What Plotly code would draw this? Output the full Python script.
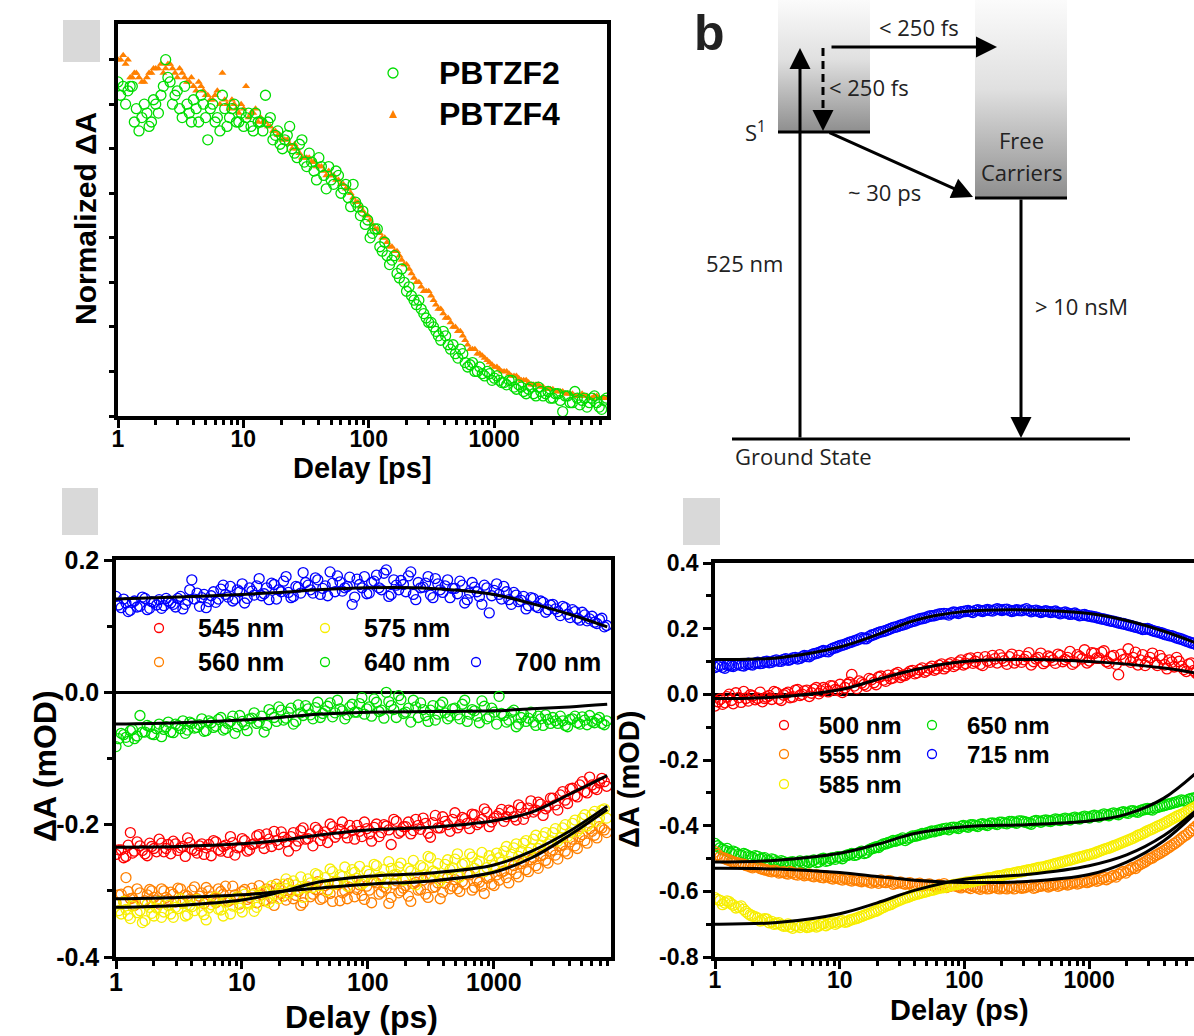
import plotly.graph_objects as go

W, H = 1194, 1036

# ---------------- data ----------------
# delay grid (ps) and an interleaved second grid
delays = [1.0, 1.1, 1.2, 1.3, 1.4, 1.55, 1.7, 1.85, 2.0, 2.2,
          2.4, 2.6, 2.85, 3.1, 3.4, 3.7, 4.0, 4.4, 4.8, 5.2,
          5.7, 6.2, 6.8, 7.4, 8.1, 8.8, 9.6, 10.5, 11.5, 12.5,
          13.7, 15, 16.4, 18, 19.6, 21.4, 23.4, 25.6, 28, 30.6,
          33.5, 36.6, 40, 43.8, 47.9, 52.4, 57.3, 62.7, 68.6, 75,
          82, 89.7, 98, 107, 117, 128, 140, 153, 168, 183,
          200, 219, 240, 262, 287, 314, 343, 375, 410, 449,
          491, 537, 587, 642, 702, 768, 840, 919, 1005, 1100,
          1200, 1315, 1440, 1570, 1720, 1880, 2060, 2250, 2460, 2690,
          2940, 3220, 3520, 3850, 4210, 4600, 5030, 5500, 6020, 6580,
          7200, 7870]
delays_mid = [1.05, 1.15, 1.25, 1.35, 1.47, 1.62, 1.77, 1.92, 2.1, 2.3,
              2.5, 2.72, 2.97, 3.25, 3.55, 3.85, 4.2, 4.6, 5.0, 5.45,
              5.95, 6.5, 7.1, 7.75, 8.45, 9.2, 10.05, 11, 12, 13.1,
              14.3, 15.7, 17.2, 18.8, 20.5, 22.4, 24.5, 26.8, 29.3, 32,
              35, 38.3, 41.9, 45.8, 50.1, 54.8, 60, 65.6, 71.7, 78.5,
              85.8, 93.8, 102.5, 112, 122.5, 134, 146.5, 160.5, 175.5, 191.5,
              209.5, 229.5, 251, 274.5, 300.5, 328.5, 359, 392.5, 429.5, 470,
              514, 562, 614.5, 672, 735, 804, 879.5, 962, 1052, 1150,
              1257, 1377, 1505, 1645, 1800, 1970, 2155, 2355, 2575, 2815,
              3080, 3370, 3685, 4030, 4405, 4815, 5265, 5760, 6300, 6890,
              7535]

# panel a (normalized dA)
pbtzf2 = [0.75, 0.74, 0.73, 0.74, 0.69, 0.67, 0.68, 0.66, 0.70, 0.72,
          0.80, 0.75, 0.72, 0.69, 0.74, 0.68, 0.71, 0.66, 0.70, 0.62,
          0.70, 0.67, 0.72, 0.65, 0.69, 0.66, 0.68, 0.67, 0.65, 0.68,
          0.66, 0.72, 0.67, 0.63, 0.61, 0.62, 0.65, 0.59, 0.61, 0.57,
          0.59, 0.55, 0.58, 0.54, 0.56, 0.52, 0.54, 0.51, 0.49, 0.52,
          0.47, 0.46, 0.44, 0.41, 0.42, 0.37, 0.36, 0.35, 0.32, 0.33,
          0.28, 0.27, 0.25, 0.24, 0.22, 0.21, 0.19, 0.17, 0.18, 0.15,
          0.14, 0.15, 0.12, 0.115, 0.10, 0.11, 0.09, 0.095, 0.085, 0.08,
          0.075, 0.08, 0.065, 0.07, 0.055, 0.06, 0.05, 0.065, 0.045, 0.055,
          0.04, 0.05, 0.01, 0.045, 0.03, 0.04, 0.035, 0.02, 0.04, 0.03,
          0.015, 0.04]
pbtzf2_mid = [0.72, 0.70, 0.74, 0.66, 0.64, 0.70, 0.65, 0.71, 0.68, 0.74,
              0.76, 0.70, 0.73, 0.67, 0.70, 0.66, 0.69, 0.72, 0.67, 0.69,
              0.66, 0.64, 0.69, 0.67, 0.70, 0.66, 0.65, 0.68, 0.64, 0.66,
              0.64, 0.66, 0.62, 0.64, 0.60, 0.63, 0.60, 0.58, 0.62, 0.56,
              0.57, 0.53, 0.56, 0.51, 0.53, 0.55, 0.50, 0.52, 0.47, 0.48,
              0.45, 0.43, 0.40, 0.42, 0.38, 0.39, 0.34, 0.36, 0.31, 0.30,
              0.29, 0.26, 0.26, 0.23, 0.21, 0.20, 0.18, 0.19, 0.16, 0.16,
              0.13, 0.14, 0.11, 0.12, 0.10, 0.095, 0.10, 0.08, 0.09, 0.075,
              0.07, 0.08, 0.06, 0.065, 0.05, 0.065, 0.045, 0.055, 0.05, 0.04,
              0.05, 0.035, 0.045, 0.03, 0.055, 0.025, 0.04, 0.03, 0.045, 0.02,
              0.035]
pbtzf4 = [0.80, 0.81, 0.80, 0.76, 0.77, 0.75, 0.76, 0.77, 0.78, 0.79,
          0.78, 0.79, 0.77, 0.78, 0.76, 0.75, 0.74, 0.75, 0.73, 0.72,
          0.71, 0.73, 0.77, 0.70, 0.71, 0.69, 0.70, 0.74, 0.68, 0.69,
          0.67, 0.66, 0.65, 0.64, 0.63, 0.62, 0.61, 0.61, 0.59, 0.58,
          0.58, 0.57, 0.56, 0.55, 0.55, 0.54, 0.53, 0.52, 0.51, 0.49,
          0.48, 0.46, 0.45, 0.43, 0.42, 0.40, 0.39, 0.38, 0.37, 0.35,
          0.34, 0.32, 0.30, 0.29, 0.28, 0.27, 0.25, 0.24, 0.22, 0.21,
          0.20, 0.19, 0.17, 0.15, 0.15, 0.14, 0.13, 0.12, 0.11, 0.105,
          0.10, 0.095, 0.09, 0.085, 0.08, 0.075, 0.07, 0.07, 0.065, 0.06,
          0.06, 0.055, 0.055, 0.05, 0.05, 0.045, 0.05, 0.045, 0.04, 0.045,
          0.04, 0.04]
pbtzf4_mid = [0.80, 0.79, 0.76, 0.77, 0.76, 0.75, 0.77, 0.78, 0.78, 0.77,
              0.79, 0.78, 0.76, 0.77, 0.75, 0.76, 0.73, 0.74, 0.72, 0.71,
              0.72, 0.70, 0.71, 0.69, 0.70, 0.68, 0.69, 0.67, 0.68, 0.66,
              0.66, 0.65, 0.64, 0.63, 0.62, 0.62, 0.60, 0.60, 0.58, 0.58,
              0.57, 0.56, 0.56, 0.54, 0.54, 0.53, 0.52, 0.51, 0.50, 0.48,
              0.47, 0.45, 0.44, 0.42, 0.41, 0.40, 0.38, 0.37, 0.36, 0.34,
              0.33, 0.31, 0.30, 0.28, 0.28, 0.26, 0.24, 0.23, 0.22, 0.20,
              0.19, 0.18, 0.16, 0.15, 0.14, 0.135, 0.125, 0.115, 0.11, 0.10,
              0.10, 0.09, 0.09, 0.08, 0.08, 0.07, 0.07, 0.065, 0.06, 0.06,
              0.055, 0.055, 0.05, 0.05, 0.045, 0.045, 0.045, 0.04, 0.045, 0.04,
              0.04]

# panel c (bottom-left), dA in mOD
c_545 = [-0.245, -0.238, -0.248, -0.212, -0.240, -0.232, -0.244, -0.228, -0.236, -0.222,
         -0.241, -0.230, -0.225, -0.239, -0.233, -0.220, -0.237, -0.243, -0.229, -0.235,
         -0.247, -0.226, -0.240, -0.231, -0.218, -0.246, -0.234, -0.224, -0.238, -0.229,
         -0.215, -0.236, -0.222, -0.210, -0.230, -0.219, -0.240, -0.212, -0.225, -0.205,
         -0.221, -0.232, -0.208, -0.216, -0.227, -0.203, -0.214, -0.196, -0.220, -0.209,
         -0.201, -0.218, -0.206, -0.225, -0.199, -0.212, -0.202, -0.230, -0.195, -0.210,
         -0.203, -0.214, -0.192, -0.207, -0.198, -0.219, -0.186, -0.205, -0.195, -0.210,
         -0.182, -0.200, -0.191, -0.206, -0.185, -0.197, -0.176, -0.203, -0.190, -0.183,
         -0.195, -0.178, -0.188, -0.170, -0.192, -0.175, -0.181, -0.166, -0.186, -0.172,
         -0.160, -0.178, -0.150, -0.168, -0.145, -0.158, -0.135, -0.152, -0.140, -0.147,
         -0.130, -0.142]
c_545_mid = [-0.238, -0.250, -0.231, -0.243, -0.226, -0.239, -0.247, -0.233, -0.241, -0.228,
             -0.236, -0.244, -0.229, -0.235, -0.248, -0.227, -0.239, -0.232, -0.245, -0.230,
             -0.224, -0.238, -0.233, -0.242, -0.227, -0.235, -0.221, -0.240, -0.230, -0.217,
             -0.228, -0.214, -0.233, -0.224, -0.211, -0.226, -0.218, -0.232, -0.209, -0.222,
             -0.214, -0.204, -0.224, -0.211, -0.199, -0.219, -0.207, -0.213, -0.201, -0.222,
             -0.210, -0.196, -0.214, -0.204, -0.218, -0.200, -0.208, -0.192, -0.213, -0.203,
             -0.196, -0.209, -0.201, -0.190, -0.213, -0.197, -0.205, -0.188, -0.200, -0.192,
             -0.205, -0.189, -0.198, -0.184, -0.200, -0.192, -0.181, -0.196, -0.187, -0.177,
             -0.188, -0.180, -0.193, -0.174, -0.183, -0.164, -0.178, -0.169, -0.176, -0.160,
             -0.170, -0.155, -0.163, -0.146, -0.156, -0.140, -0.150, -0.128, -0.145, -0.137,
             -0.135]
c_560 = [-0.318, -0.305, -0.280, -0.312, -0.322, -0.303, -0.315, -0.298, -0.310, -0.320,
         -0.300, -0.313, -0.305, -0.296, -0.317, -0.308, -0.299, -0.312, -0.303, -0.295,
         -0.309, -0.318, -0.301, -0.293, -0.314, -0.306, -0.320, -0.298, -0.310, -0.304,
         -0.292, -0.315, -0.300, -0.322, -0.296, -0.308, -0.289, -0.312, -0.301, -0.318,
         -0.294, -0.305, -0.286, -0.311, -0.299, -0.316, -0.290, -0.303, -0.312, -0.284,
         -0.298, -0.307, -0.293, -0.318, -0.288, -0.302, -0.296, -0.310, -0.285, -0.300,
         -0.292, -0.316, -0.287, -0.298, -0.305, -0.281, -0.294, -0.312, -0.289, -0.297,
         -0.283, -0.301, -0.290, -0.276, -0.295, -0.287, -0.304, -0.279, -0.292, -0.284,
         -0.270, -0.288, -0.262, -0.279, -0.256, -0.271, -0.250, -0.266, -0.245, -0.258,
         -0.238, -0.252, -0.230, -0.244, -0.222, -0.236, -0.215, -0.228, -0.210, -0.220,
         -0.205, -0.212]
c_560_mid = [-0.306, -0.316, -0.301, -0.311, -0.297, -0.318, -0.306, -0.300, -0.314, -0.297,
             -0.310, -0.302, -0.317, -0.297, -0.306, -0.313, -0.294, -0.308, -0.319, -0.300,
             -0.312, -0.297, -0.305, -0.316, -0.293, -0.309, -0.301, -0.313, -0.296, -0.318,
             -0.306, -0.297, -0.311, -0.290, -0.304, -0.314, -0.299, -0.307, -0.322, -0.295,
             -0.309, -0.298, -0.313, -0.292, -0.304, -0.287, -0.315, -0.300, -0.295, -0.309,
             -0.291, -0.313, -0.299, -0.286, -0.305, -0.294, -0.319, -0.290, -0.303, -0.296,
             -0.308, -0.289, -0.299, -0.284, -0.310, -0.295, -0.288, -0.302, -0.280, -0.293,
             -0.297, -0.286, -0.275, -0.299, -0.284, -0.293, -0.281, -0.290, -0.276, -0.272,
             -0.280, -0.268, -0.274, -0.259, -0.268, -0.253, -0.262, -0.247, -0.254, -0.240,
             -0.246, -0.232, -0.240, -0.226, -0.232, -0.218, -0.224, -0.206, -0.216, -0.203,
             -0.208]
c_575 = [-0.320, -0.335, -0.328, -0.342, -0.318, -0.330, -0.345, -0.325, -0.338, -0.316,
         -0.332, -0.322, -0.340, -0.327, -0.319, -0.336, -0.324, -0.313, -0.331, -0.344,
         -0.321, -0.309, -0.329, -0.317, -0.335, -0.312, -0.326, -0.305, -0.320, -0.331,
         -0.308, -0.300, -0.318, -0.296, -0.312, -0.290, -0.304, -0.285, -0.298, -0.310,
         -0.282, -0.295, -0.276, -0.289, -0.300, -0.271, -0.286, -0.278, -0.293, -0.268,
         -0.281, -0.290, -0.270, -0.284, -0.262, -0.279, -0.288, -0.266, -0.275, -0.258,
         -0.283, -0.270, -0.291, -0.262, -0.276, -0.250, -0.272, -0.285, -0.260, -0.268,
         -0.252, -0.279, -0.258, -0.244, -0.266, -0.255, -0.271, -0.247, -0.262, -0.250,
         -0.240, -0.256, -0.235, -0.248, -0.228, -0.242, -0.222, -0.236, -0.218, -0.229,
         -0.212, -0.225, -0.205, -0.218, -0.198, -0.210, -0.190, -0.202, -0.185, -0.195,
         -0.178, -0.190]
c_575_mid = [-0.330, -0.316, -0.337, -0.323, -0.333, -0.348, -0.320, -0.334, -0.326, -0.340,
             -0.318, -0.335, -0.325, -0.312, -0.338, -0.322, -0.330, -0.318, -0.336, -0.326,
             -0.315, -0.328, -0.338, -0.314, -0.323, -0.309, -0.332, -0.318, -0.306, -0.325,
             -0.302, -0.315, -0.292, -0.305, -0.298, -0.282, -0.300, -0.291, -0.279, -0.295,
             -0.288, -0.274, -0.292, -0.280, -0.267, -0.290, -0.276, -0.264, -0.285, -0.272,
             -0.263, -0.287, -0.275, -0.260, -0.280, -0.268, -0.256, -0.276, -0.264, -0.284,
             -0.266, -0.254, -0.278, -0.265, -0.248, -0.270, -0.259, -0.280, -0.253, -0.265,
             -0.244, -0.260, -0.272, -0.249, -0.259, -0.242, -0.265, -0.253, -0.243, -0.257,
             -0.233, -0.245, -0.229, -0.240, -0.224, -0.236, -0.216, -0.231, -0.212, -0.224,
             -0.206, -0.220, -0.200, -0.212, -0.193, -0.206, -0.185, -0.198, -0.180, -0.190,
             -0.176]
c_640 = [-0.082, -0.062, -0.068, -0.058, -0.070, -0.035, -0.060, -0.052, -0.064, -0.048,
         -0.056, -0.045, -0.061, -0.050, -0.043, -0.057, -0.047, -0.053, -0.040, -0.058,
         -0.046, -0.051, -0.038, -0.055, -0.044, -0.062, -0.035, -0.049, -0.040, -0.031,
         -0.045, -0.060, -0.026, -0.038, -0.022, -0.042, -0.030, -0.048, -0.019, -0.035,
         -0.025, -0.040, -0.015, -0.032, -0.021, -0.037, -0.012, -0.028, -0.034, -0.018,
         -0.030, -0.008, -0.025, -0.036, -0.015, -0.027, 0.000, -0.020, -0.038, -0.011,
         -0.030, -0.045, -0.022, -0.016, -0.035, -0.027, -0.042, -0.019, -0.031, -0.036,
         -0.024, -0.040, -0.012, -0.033, -0.028, -0.046, -0.021, -0.037, -0.030, -0.006,
         -0.035, -0.042, -0.027, -0.048, -0.033, -0.039, -0.045, -0.036, -0.050, -0.041,
         -0.038, -0.047, -0.043, -0.052, -0.040, -0.046, -0.037, -0.049, -0.044, -0.041,
         -0.047, -0.043]
c_640_mid = [-0.070, -0.064, -0.074, -0.056, -0.066, -0.060, -0.050, -0.063, -0.055, -0.067,
             -0.052, -0.060, -0.048, -0.055, -0.062, -0.045, -0.054, -0.049, -0.059, -0.043,
             -0.053, -0.041, -0.057, -0.047, -0.036, -0.052, -0.044, -0.058, -0.039, -0.047,
             -0.036, -0.050, -0.032, -0.044, -0.027, -0.039, -0.024, -0.044, -0.031, -0.020,
             -0.034, -0.023, -0.038, -0.028, -0.016, -0.031, -0.025, -0.040, -0.022, -0.030,
             -0.017, -0.033, -0.022, -0.010, -0.029, -0.039, -0.014, -0.026, -0.005, -0.032,
             -0.024, -0.012, -0.038, -0.026, -0.044, -0.020, -0.033, -0.015, -0.040, -0.025,
             -0.034, -0.018, -0.044, -0.026, -0.036, -0.013, -0.040, -0.024, -0.048, -0.032,
             -0.045, -0.030, -0.052, -0.038, -0.044, -0.030, -0.050, -0.040, -0.034, -0.047,
             -0.043, -0.036, -0.050, -0.041, -0.036, -0.048, -0.042, -0.035, -0.046, -0.038,
             -0.049]
c_700 = [0.145, 0.128, 0.135, 0.124, 0.138, 0.130, 0.142, 0.127, 0.136, 0.140,
         0.131, 0.138, 0.133, 0.142, 0.126, 0.139, 0.170, 0.150, 0.143, 0.128,
         0.146, 0.136, 0.156, 0.148, 0.160, 0.141, 0.152, 0.135, 0.158, 0.147,
         0.172, 0.149, 0.140, 0.163, 0.155, 0.168, 0.151, 0.145, 0.159, 0.181,
         0.162, 0.150, 0.170, 0.157, 0.146, 0.165, 0.176, 0.153, 0.160, 0.133,
         0.171, 0.158, 0.149, 0.166, 0.177, 0.155, 0.185, 0.148, 0.162, 0.169,
         0.152, 0.182, 0.140, 0.158, 0.165, 0.147, 0.172, 0.155, 0.161, 0.143,
         0.157, 0.168, 0.135, 0.150, 0.159, 0.145, 0.162, 0.120, 0.154, 0.148,
         0.160, 0.140, 0.151, 0.137, 0.145, 0.131, 0.142, 0.128, 0.136, 0.125,
         0.133, 0.122, 0.130, 0.118, 0.125, 0.112, 0.121, 0.108, 0.115, 0.104,
         0.112, 0.101]
c_700_mid = [0.132, 0.141, 0.122, 0.136, 0.129, 0.144, 0.125, 0.137, 0.132, 0.127,
             0.142, 0.135, 0.129, 0.145, 0.133, 0.155, 0.141, 0.130, 0.148, 0.137,
             0.152, 0.141, 0.162, 0.144, 0.138, 0.155, 0.164, 0.142, 0.153, 0.161,
             0.146, 0.158, 0.165, 0.141, 0.152, 0.175, 0.143, 0.160, 0.150, 0.166,
             0.155, 0.173, 0.148, 0.161, 0.182, 0.152, 0.167, 0.158, 0.174, 0.144,
             0.163, 0.175, 0.150, 0.168, 0.158, 0.180, 0.145, 0.170, 0.155, 0.163,
             0.176, 0.148, 0.166, 0.159, 0.175, 0.143, 0.164, 0.151, 0.170, 0.157,
             0.149, 0.162, 0.140, 0.166, 0.152, 0.133, 0.158, 0.146, 0.164, 0.141,
             0.152, 0.133, 0.147, 0.139, 0.126, 0.143, 0.130, 0.138, 0.121, 0.132,
             0.126, 0.116, 0.128, 0.113, 0.122, 0.109, 0.117, 0.111, 0.106, 0.110,
             0.099]

# panel d (bottom-right), dA in mOD
d_500 = [-0.035, -0.015, -0.025, 0.000, -0.028, -0.010, 0.008, -0.020, -0.005, -0.012,
         -0.022, -0.008, -0.015, 0.005, -0.018, 0.002, -0.010, 0.012, -0.003, 0.010,
         -0.006, 0.015, 0.002, 0.020, 0.008, 0.025, 0.012, 0.006, 0.030, 0.060,
         0.018, 0.035, 0.025, 0.045, 0.030, 0.055, 0.040, 0.048, 0.062, 0.052,
         0.058, 0.070, 0.063, 0.075, 0.068, 0.080, 0.074, 0.088, 0.078, 0.092,
         0.085, 0.098, 0.090, 0.108, 0.095, 0.112, 0.088, 0.102, 0.118, 0.096,
         0.110, 0.092, 0.122, 0.104, 0.098, 0.115, 0.090, 0.108, 0.125, 0.100,
         0.112, 0.095, 0.118, 0.106, 0.130, 0.098, 0.115, 0.135, 0.102, 0.125,
         0.110, 0.132, 0.095, 0.118, 0.060, 0.105, 0.138, 0.112, 0.090, 0.120,
         0.100, 0.125, 0.088, 0.108, 0.078, 0.098, 0.112, 0.085, 0.070, 0.095,
         0.065, 0.082]
d_500_mid = [-0.022, -0.030, -0.008, -0.018, 0.004, -0.024, -0.012, -0.002, -0.016, 0.006,
             -0.012, -0.004, 0.008, -0.014, -0.002, 0.006, -0.008, 0.014, 0.000, 0.012,
             0.004, 0.020, 0.010, 0.016, 0.026, 0.014, 0.030, 0.020, 0.036, 0.026,
             0.040, 0.030, 0.048, 0.036, 0.052, 0.044, 0.058, 0.050, 0.066, 0.058,
             0.064, 0.072, 0.066, 0.080, 0.072, 0.085, 0.078, 0.092, 0.084, 0.096,
             0.090, 0.104, 0.094, 0.110, 0.100, 0.092, 0.114, 0.098, 0.108, 0.120,
             0.102, 0.114, 0.096, 0.118, 0.106, 0.126, 0.100, 0.112, 0.094, 0.116,
             0.104, 0.122, 0.100, 0.112, 0.092, 0.120, 0.108, 0.096, 0.126, 0.110,
             0.128, 0.100, 0.115, 0.092, 0.122, 0.108, 0.098, 0.128, 0.104, 0.088,
             0.112, 0.096, 0.118, 0.090, 0.104, 0.084, 0.100, 0.076, 0.092, 0.072,
             0.058]
d_555 = [-0.480, -0.495, -0.500, -0.505, -0.510, -0.515, -0.518, -0.522, -0.528, -0.525,
         -0.532, -0.535, -0.540, -0.538, -0.542, -0.545, -0.540, -0.548, -0.545, -0.552,
         -0.548, -0.555, -0.552, -0.558, -0.555, -0.562, -0.560, -0.565, -0.562, -0.568,
         -0.565, -0.570, -0.567, -0.574, -0.570, -0.566, -0.573, -0.569, -0.576, -0.572,
         -0.578, -0.574, -0.580, -0.576, -0.582, -0.578, -0.584, -0.580, -0.577, -0.585,
         -0.581, -0.586, -0.583, -0.588, -0.584, -0.590, -0.586, -0.592, -0.587, -0.590,
         -0.586, -0.592, -0.588, -0.585, -0.590, -0.586, -0.582, -0.588, -0.584, -0.580,
         -0.583, -0.578, -0.581, -0.575, -0.578, -0.572, -0.575, -0.568, -0.570, -0.564,
         -0.566, -0.558, -0.560, -0.552, -0.548, -0.540, -0.536, -0.528, -0.522, -0.514,
         -0.505, -0.498, -0.488, -0.480, -0.470, -0.460, -0.450, -0.438, -0.428, -0.415,
         -0.402, -0.390]
d_555_mid = [-0.488, -0.498, -0.503, -0.508, -0.513, -0.517, -0.521, -0.525, -0.523, -0.530,
             -0.534, -0.538, -0.536, -0.544, -0.541, -0.547, -0.543, -0.550, -0.547, -0.550,
             -0.553, -0.550, -0.557, -0.553, -0.560, -0.557, -0.563, -0.560, -0.566, -0.564,
             -0.568, -0.566, -0.572, -0.568, -0.575, -0.571, -0.568, -0.578, -0.574, -0.576,
             -0.576, -0.582, -0.578, -0.584, -0.580, -0.582, -0.586, -0.582, -0.588, -0.583,
             -0.584, -0.589, -0.585, -0.591, -0.587, -0.593, -0.588, -0.591, -0.586, -0.592,
             -0.590, -0.586, -0.592, -0.587, -0.589, -0.584, -0.590, -0.585, -0.582, -0.586,
             -0.580, -0.584, -0.577, -0.580, -0.574, -0.577, -0.571, -0.573, -0.567, -0.569,
             -0.562, -0.564, -0.556, -0.556, -0.544, -0.544, -0.532, -0.530, -0.518, -0.510,
             -0.500, -0.492, -0.484, -0.475, -0.465, -0.455, -0.444, -0.432, -0.421, -0.408,
             -0.396]
d_585 = [-0.620, -0.628, -0.635, -0.632, -0.642, -0.648, -0.655, -0.668, -0.675, -0.682,
         -0.688, -0.685, -0.692, -0.698, -0.702, -0.705, -0.708, -0.704, -0.710, -0.706,
         -0.708, -0.702, -0.705, -0.698, -0.700, -0.694, -0.696, -0.690, -0.692, -0.686,
         -0.682, -0.676, -0.670, -0.665, -0.660, -0.652, -0.645, -0.640, -0.632, -0.626,
         -0.620, -0.615, -0.610, -0.606, -0.602, -0.598, -0.595, -0.590, -0.588, -0.584,
         -0.580, -0.578, -0.575, -0.572, -0.570, -0.566, -0.564, -0.560, -0.558, -0.554,
         -0.552, -0.548, -0.546, -0.542, -0.540, -0.536, -0.534, -0.530, -0.527, -0.524,
         -0.520, -0.516, -0.512, -0.508, -0.505, -0.500, -0.496, -0.492, -0.488, -0.484,
         -0.478, -0.472, -0.468, -0.462, -0.456, -0.450, -0.444, -0.438, -0.430, -0.424,
         -0.416, -0.410, -0.402, -0.396, -0.388, -0.380, -0.372, -0.366, -0.358, -0.350,
         -0.342, -0.336]
d_585_mid = [-0.625, -0.640, -0.630, -0.638, -0.650, -0.645, -0.662, -0.672, -0.678, -0.690,
             -0.684, -0.695, -0.700, -0.696, -0.706, -0.700, -0.712, -0.706, -0.702, -0.710,
             -0.704, -0.708, -0.700, -0.704, -0.697, -0.700, -0.692, -0.694, -0.688, -0.684,
             -0.679, -0.673, -0.668, -0.662, -0.656, -0.649, -0.642, -0.636, -0.629, -0.623,
             -0.618, -0.612, -0.608, -0.604, -0.600, -0.596, -0.592, -0.589, -0.586, -0.582,
             -0.579, -0.576, -0.573, -0.571, -0.568, -0.565, -0.562, -0.559, -0.556, -0.553,
             -0.550, -0.547, -0.544, -0.541, -0.538, -0.535, -0.532, -0.528, -0.526, -0.522,
             -0.518, -0.514, -0.510, -0.506, -0.502, -0.498, -0.494, -0.490, -0.486, -0.481,
             -0.475, -0.470, -0.465, -0.459, -0.453, -0.447, -0.441, -0.434, -0.427, -0.420,
             -0.413, -0.406, -0.399, -0.392, -0.384, -0.376, -0.369, -0.362, -0.354, -0.346,
             -0.339]
d_650 = [-0.455, -0.468, -0.475, -0.480, -0.478, -0.488, -0.485, -0.492, -0.497, -0.494,
         -0.500, -0.505, -0.502, -0.510, -0.507, -0.515, -0.512, -0.518, -0.508, -0.515,
         -0.512, -0.505, -0.510, -0.500, -0.506, -0.498, -0.495, -0.500, -0.490, -0.485,
         -0.488, -0.478, -0.482, -0.470, -0.465, -0.460, -0.455, -0.450, -0.447, -0.442,
         -0.445, -0.436, -0.432, -0.428, -0.425, -0.420, -0.418, -0.414, -0.410, -0.412,
         -0.405, -0.408, -0.400, -0.404, -0.398, -0.402, -0.395, -0.399, -0.392, -0.396,
         -0.390, -0.394, -0.388, -0.392, -0.386, -0.390, -0.395, -0.385, -0.389, -0.383,
         -0.387, -0.380, -0.384, -0.378, -0.382, -0.375, -0.379, -0.372, -0.376, -0.369,
         -0.373, -0.365, -0.369, -0.362, -0.366, -0.358, -0.362, -0.355, -0.359, -0.352,
         -0.348, -0.352, -0.344, -0.340, -0.336, -0.332, -0.328, -0.322, -0.326, -0.318,
         -0.315, -0.320]
d_650_mid = [-0.462, -0.472, -0.470, -0.484, -0.482, -0.490, -0.488, -0.495, -0.492, -0.502,
             -0.498, -0.508, -0.504, -0.512, -0.510, -0.516, -0.510, -0.514, -0.512, -0.508,
             -0.508, -0.512, -0.502, -0.508, -0.500, -0.502, -0.496, -0.493, -0.488, -0.490,
             -0.482, -0.484, -0.474, -0.468, -0.466, -0.456, -0.452, -0.446, -0.444, -0.438,
             -0.440, -0.432, -0.430, -0.424, -0.422, -0.417, -0.415, -0.411, -0.408, -0.406,
             -0.406, -0.402, -0.402, -0.398, -0.400, -0.396, -0.397, -0.393, -0.394, -0.390,
             -0.392, -0.388, -0.390, -0.386, -0.388, -0.392, -0.387, -0.386, -0.385, -0.385,
             -0.383, -0.382, -0.380, -0.380, -0.377, -0.378, -0.374, -0.374, -0.371, -0.371,
             -0.368, -0.367, -0.364, -0.364, -0.360, -0.360, -0.356, -0.357, -0.354, -0.350,
             -0.350, -0.346, -0.342, -0.338, -0.334, -0.330, -0.325, -0.324, -0.320, -0.316,
             -0.318]
d_715 = [0.082, 0.088, 0.080, 0.090, 0.085, 0.092, 0.087, 0.094, 0.090, 0.097,
         0.095, 0.100, 0.098, 0.104, 0.101, 0.108, 0.106, 0.112, 0.110, 0.118,
         0.115, 0.123, 0.127, 0.133, 0.130, 0.140, 0.145, 0.150, 0.155, 0.160,
         0.165, 0.172, 0.170, 0.180, 0.185, 0.190, 0.194, 0.200, 0.205, 0.210,
         0.214, 0.220, 0.224, 0.230, 0.232, 0.238, 0.240, 0.244, 0.246, 0.242,
         0.250, 0.247, 0.252, 0.255, 0.250, 0.257, 0.253, 0.258, 0.254, 0.260,
         0.256, 0.259, 0.253, 0.257, 0.255, 0.260, 0.252, 0.256, 0.250, 0.254,
         0.250, 0.253, 0.246, 0.250, 0.244, 0.247, 0.240, 0.243, 0.238, 0.236,
         0.232, 0.229, 0.225, 0.222, 0.218, 0.215, 0.211, 0.207, 0.203, 0.198,
         0.200, 0.194, 0.190, 0.186, 0.181, 0.178, 0.172, 0.168, 0.162, 0.157,
         0.152, 0.148]
d_715_mid = [0.086, 0.083, 0.089, 0.087, 0.090, 0.088, 0.092, 0.091, 0.095, 0.094,
             0.099, 0.097, 0.102, 0.101, 0.106, 0.104, 0.110, 0.108, 0.114, 0.116,
             0.120, 0.125, 0.130, 0.131, 0.136, 0.142, 0.148, 0.152, 0.158, 0.163,
             0.168, 0.170, 0.176, 0.182, 0.188, 0.192, 0.197, 0.203, 0.207, 0.212,
             0.217, 0.222, 0.227, 0.231, 0.235, 0.239, 0.242, 0.245, 0.245, 0.247,
             0.249, 0.251, 0.253, 0.252, 0.255, 0.255, 0.256, 0.256, 0.257, 0.258,
             0.258, 0.256, 0.255, 0.256, 0.257, 0.256, 0.254, 0.253, 0.252, 0.252,
             0.251, 0.249, 0.248, 0.247, 0.245, 0.243, 0.241, 0.240, 0.237, 0.234,
             0.230, 0.227, 0.223, 0.220, 0.216, 0.213, 0.209, 0.205, 0.201, 0.199,
             0.197, 0.192, 0.188, 0.183, 0.179, 0.175, 0.170, 0.165, 0.160, 0.155,
             0.150]

# fitted curves (sampled at these delays)
fit_delays = [1, 3.16, 10, 20, 39.8, 100, 316, 1000, 2000, 3980, 7940]
fit_c_700 = [0.141, 0.144, 0.148, 0.151, 0.155, 0.158, 0.157, 0.148, 0.134, 0.118, 0.099]
fit_c_640 = [-0.048, -0.046, -0.042, -0.038, -0.033, -0.030, -0.029, -0.028, -0.025, -0.022, -0.018]
fit_c_545 = [-0.234, -0.233, -0.229, -0.224, -0.216, -0.208, -0.204, -0.194, -0.181, -0.154, -0.126]
fit_c_560 = [-0.312, -0.310, -0.306, -0.301, -0.296, -0.290, -0.285, -0.272, -0.250, -0.216, -0.177]
fit_c_575 = [-0.325, -0.322, -0.314, -0.302, -0.287, -0.278, -0.273, -0.261, -0.240, -0.210, -0.172]
fit_d_715 = [0.106, 0.111, 0.144, 0.182, 0.225, 0.252, 0.257, 0.246, 0.225, 0.192, 0.150]
fit_d_500 = [-0.013, -0.008, 0.014, 0.045, 0.075, 0.100, 0.106, 0.100, 0.092, 0.080, 0.062]
fit_d_650 = [-0.511, -0.505, -0.484, -0.457, -0.424, -0.403, -0.397, -0.386, -0.365, -0.316, -0.225]
fit_d_555 = [-0.530, -0.532, -0.543, -0.555, -0.566, -0.573, -0.570, -0.549, -0.511, -0.446, -0.345]
fit_d_585 = [-0.700, -0.695, -0.668, -0.635, -0.597, -0.563, -0.549, -0.522, -0.489, -0.430, -0.340]

major_ticks = [1, 10, 100, 1000]
tick_text = ["1", "10", "100", "1000"]
c_yticks = [-0.4, -0.2, 0.0, 0.2]
c_yticktext = ["-0.4", "-0.2", "0.0", "0.2"]
d_yticks = [-0.8, -0.6, -0.4, -0.2, 0.0, 0.2, 0.4]
d_yticktext = ["-0.8", "-0.6", "-0.4", "-0.2", "0.0", "0.2", "0.4"]
a_yticks = [0.0, 0.1, 0.2, 0.3, 0.4, 0.5, 0.6, 0.7, 0.8]

RED, ORANGE, YELLOW, GREEN, BLUE = "#ff0000", "#ff8000", "#f7ee00", "#00dd00", "#0000ff"
FONT = "Liberation Sans, Arial, sans-serif"
DFONT = "Open Sans, sans-serif"

# ---------------- figure ----------------
fig = go.Figure()


def scatter(ya_list, yb_list, color, xa, ya, size=10, symbol="circle-open", lw=1.3):
    na = min(len(delays), len(ya_list))
    nb = min(len(delays_mid), len(yb_list))
    x = delays[:na] + delays_mid[:nb]
    y = ya_list[:na] + yb_list[:nb]
    fig.add_trace(go.Scatter(x=x, y=y, mode="markers", xaxis=xa, yaxis=ya,
                             showlegend=False, hoverinfo="skip",
                             marker=dict(symbol=symbol, size=size, color=color,
                                         line=dict(width=lw, color=color))))


def fitline(y, xa, ya):
    fig.add_trace(go.Scatter(x=fit_delays, y=y, mode="lines", xaxis=xa, yaxis=ya,
                             line=dict(color="black", width=3, shape="spline", smoothing=1.0),
                             showlegend=False, hoverinfo="skip"))


# panel a
scatter(pbtzf4, pbtzf4_mid, ORANGE, "x", "y", size=7, symbol="triangle-up", lw=0)
scatter(pbtzf2, pbtzf2_mid, GREEN, "x", "y", size=10)

# panel c
for a, b, col in [(c_700, c_700_mid, BLUE), (c_640, c_640_mid, GREEN), (c_545, c_545_mid, RED),
                  (c_560, c_560_mid, ORANGE), (c_575, c_575_mid, YELLOW)]:
    scatter(a, b, col, "x2", "y2")
for fy in [fit_c_700, fit_c_640, fit_c_545, fit_c_560, fit_c_575]:
    fitline(fy, "x2", "y2")

# panel d
for a, b, col in [(d_715, d_715_mid, BLUE), (d_500, d_500_mid, RED), (d_650, d_650_mid, GREEN),
                  (d_555, d_555_mid, ORANGE), (d_585, d_585_mid, YELLOW)]:
    scatter(a, b, col, "x3", "y3", size=10.5)
for fy in [fit_d_715, fit_d_500, fit_d_650, fit_d_555, fit_d_585]:
    fitline(fy, "x3", "y3")


def px(x):
    return x / W


def py(y):
    return 1 - y / H


minor_vals = [m * 10 ** e for e in range(4) for m in range(2, 10)]


def xaxis_cfg(dom, rng, fs):
    return dict(domain=dom, type="log", range=rng, showline=True, linewidth=3.5, linecolor="black",
                mirror=True, ticks="outside", ticklen=8, tickwidth=3, tickcolor="black",
                tickmode="array", tickvals=major_ticks, ticktext=tick_text,
                ticklabelstandoff=-8,
                tickfont=dict(family=FONT, size=fs, color="black", weight="bold"),
                minor=dict(tickmode="array", tickvals=minor_vals, ticks="outside", ticklen=5,
                           tickwidth=2.5, tickcolor="black"),
                showgrid=False, zeroline=False, fixedrange=True, automargin=False)


def yaxis_cfg(dom, rng, fs, vals, texts, minor, mirror=True, labels=True, zero=True):
    return dict(domain=dom, range=rng, showline=True, linewidth=3.5, linecolor="black",
                mirror=mirror, ticks="outside", ticklen=8, tickwidth=3, tickcolor="black",
                tickmode="array", tickvals=vals, ticktext=texts, showticklabels=labels,
                tickfont=dict(family=FONT, size=fs, color="black", weight="bold"),
                minor=dict(tickmode="array", tickvals=minor, ticks="outside", ticklen=5,
                           tickwidth=2.5, tickcolor="black") if minor else dict(ticks=""),
                showgrid=False, zeroline=zero, zerolinecolor="black", zerolinewidth=3,
                fixedrange=True, automargin=False)


ya = yaxis_cfg([py(416), py(24)], [0, 0.88], 22, a_yticks, [""] * len(a_yticks), None,
               labels=False, zero=False)
ya["ticklen"] = 5
ya["tickwidth"] = 2.5
yc = yaxis_cfg([py(957), py(560)], [-0.4, 0.2], 25, c_yticks, c_yticktext, [-0.3, -0.1, 0.1])
yd = yaxis_cfg([py(957), py(563)], [-0.8, 0.4], 23, d_yticks, d_yticktext,
               [-0.7, -0.5, -0.3, -0.1, 0.1, 0.3], mirror=False)

fig.update_layout(
    width=W, height=H, margin=dict(l=0, r=0, t=0, b=0, pad=0, autoexpand=False), autosize=False,
    paper_bgcolor="white", plot_bgcolor="rgba(0,0,0,0)",
    xaxis=dict(anchor="y", **xaxis_cfg([px(118), px(607)], [0, 3.9], 23)),
    yaxis=dict(anchor="x", **ya),
    xaxis2=dict(anchor="y2", **xaxis_cfg([px(116), px(611)], [0, 3.93], 25)),
    yaxis2=dict(anchor="x2", **yc),
    xaxis3=dict(anchor="y3", **xaxis_cfg([px(715), 1.0], [0, 3.841], 23)),
    yaxis3=dict(anchor="x3", **yd),
    xaxis4=dict(domain=[0.55, 1.0], range=[0.55 * W, W], anchor="y4", visible=False,
                fixedrange=True, automargin=False),
    yaxis4=dict(domain=[0.55, 1.0], range=[0.45 * H, 0], anchor="x4", visible=False,
                fixedrange=True, automargin=False),
    showlegend=False,
)

# ---------------- panel b: energy diagram ----------------
for x0, x1, ybot in [(778, 870, 132), (975, 1067, 198)]:
    fig.add_trace(go.Scatter(x=[x0, x1, x1, x0, x0], y=[0, 0, ybot, ybot, 0],
                             xaxis="x4", yaxis="y4", mode="lines", fill="toself",
                             line=dict(width=0, color="rgba(0,0,0,0)"),
                             fillgradient=dict(type="vertical", start=0, stop=ybot,
                                               colorscale=[[0, "#fbfbfb"], [0.45, "#e0e0e0"],
                                                           [1, "#8e8e8e"]]),
                             showlegend=False, hoverinfo="skip"))

shapes = []


def dline(x0, y0, x1, y1, dash="solid", w=3):
    shapes.append(dict(type="line", xref="x4", yref="y4", x0=x0, y0=y0, x1=x1, y1=y1,
                       line=dict(color="black", width=w, dash=dash)))


dline(778, 132, 870, 132)
dline(975, 198, 1067, 198)
dline(732, 439, 1130, 439)
dline(823, 48, 823, 118, dash="8px,5px")

annotations = []


def arrow(xt, yt, xh, yh):
    annotations.append(dict(x=xh, y=yh, ax=xt, ay=yt, xref="x4", yref="y4", axref="x4", ayref="y4",
                            text="", showarrow=True, arrowhead=2, arrowsize=1.4, arrowwidth=3,
                            arrowcolor="black", standoff=0, startstandoff=0))


arrow(800, 439, 800, 48)
arrow(830, 47, 997, 47)
arrow(823, 112, 823, 131)
arrow(828, 132, 973, 197)
arrow(1021, 198, 1021, 438)


def dtext(x, y, t, size=22, anchor="center", family=DFONT, weight="normal"):
    annotations.append(dict(x=x, y=y, xref="x4", yref="y4", text=t, showarrow=False,
                            xanchor=anchor, yanchor="middle",
                            font=dict(family=family, size=size, color="#222222", weight=weight)))


dtext(919, 27, "&lt; 250 fs")
dtext(869, 87, "&lt; 250 fs")
dtext(755, 131, "S<sup>1</sup>")
dtext(884, 192, "~ 30 ps")
dtext(1021, 140, "Free")
dtext(1021, 172, "Carriers")
dtext(744, 263, "525 nm")
dtext(1081, 306, "&gt; 10 nsM")
dtext(733, 456, "Ground State", anchor="left")
dtext(709, 33, "b", size=50, family=FONT, weight="bold")


# ---------------- paper-level texts / legends ----------------
def ptext(x, y, t, size, angle=0, anchor="center"):
    annotations.append(dict(x=px(x), y=py(y), xref="paper", yref="paper", text=t, showarrow=False,
                            xanchor=anchor, yanchor="middle", textangle=angle,
                            font=dict(family=FONT, size=size, color="black", weight="bold")))


def pcircle(cx, cy, color, r=4.5):
    shapes.append(dict(type="circle", xref="paper", yref="paper",
                       x0=px(cx - r), x1=px(cx + r), y0=py(cy + r), y1=py(cy - r),
                       line=dict(color=color, width=1.3)))


def prect(x0, y0, x1, y1):
    shapes.append(dict(type="rect", xref="paper", yref="paper", x0=px(x0), x1=px(x1),
                       y0=py(y1), y1=py(y0), fillcolor="#d9d9d9", line=dict(width=0)))


# grey label placeholders
prect(63, 20, 100, 62)
prect(62, 488, 98, 535)
prect(683, 498, 720, 545)

# panel a
ptext(85, 218, "Normalized ΔA", 30, angle=-90)
ptext(362, 468, "Delay [ps]", 29)
pcircle(393, 73, GREEN, r=5)
shapes.append(dict(type="path", xref="paper", yref="paper",
                   path=f"M {px(389)},{py(118)} L {px(397)},{py(118)} L {px(393)},{py(110)} Z",
                   fillcolor=ORANGE, line=dict(width=0)))
ptext(437, 73, "PBTZF2", 32, anchor="left")
ptext(437, 114, "PBTZF4", 32, anchor="left")

# panel c
ptext(45, 766, "ΔA (mOD)", 32, angle=-90)
ptext(361, 1017, "Delay (ps)", 32)
for cx, cy, col, lab in [(159, 628, RED, "545 nm"), (325, 628, YELLOW, "575 nm"),
                         (159, 662, ORANGE, "560 nm"), (325, 662, GREEN, "640 nm"),
                         (476, 662, BLUE, "700 nm")]:
    pcircle(cx, cy, col)
    ptext(cx + 37, cy, lab, 25, anchor="left")

# panel d
ptext(629, 780, "ΔA (mOD)", 29, angle=-90)
ptext(959, 1010, "Delay (ps)", 29)
for cx, cy, col, lab in [(784, 725, RED, "500 nm"), (932, 725, GREEN, "650 nm"),
                         (784, 754, ORANGE, "555 nm"), (932, 754, BLUE, "715 nm"),
                         (784, 784, YELLOW, "585 nm")]:
    pcircle(cx, cy, col)
    ptext(cx + 33, cy, lab, 24, anchor="left")

fig.update_layout(shapes=shapes, annotations=annotations)

fig.write_html("out.html", config={"displayModeBar": False},
               post_script="document.body.style.margin='0';document.body.style.overflow='hidden';")
